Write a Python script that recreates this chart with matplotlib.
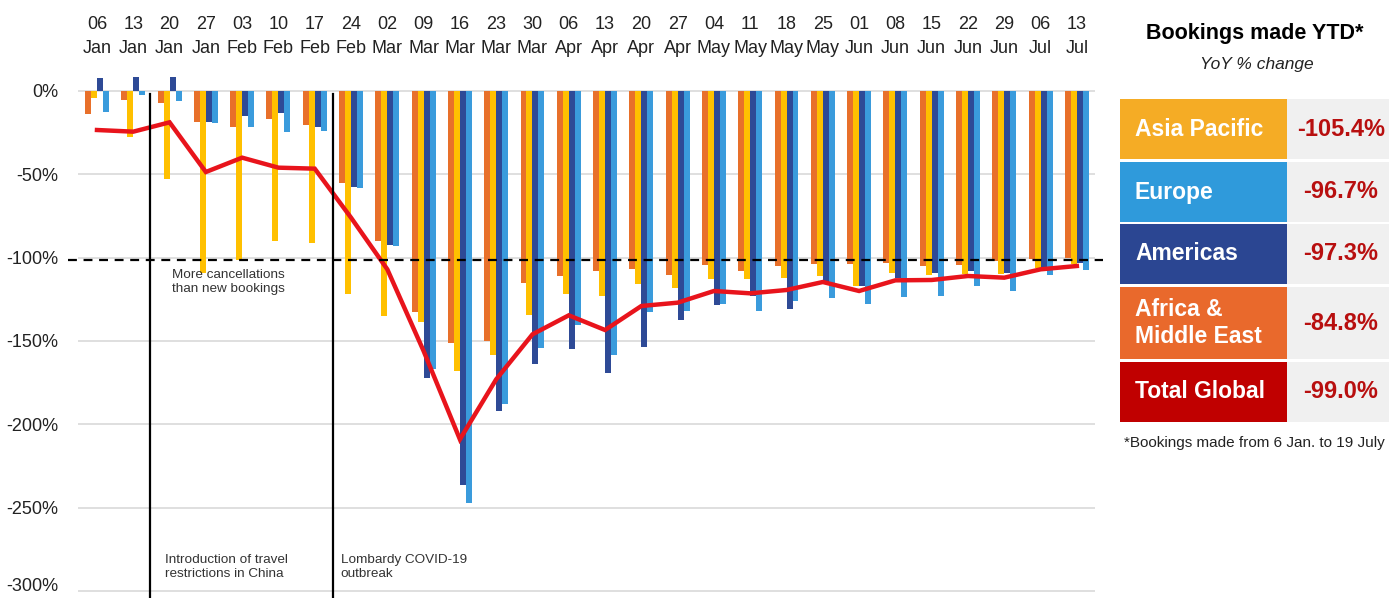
import matplotlib
matplotlib.use("Agg")
import matplotlib.pyplot as plt
from matplotlib.patches import Rectangle
import numpy as np

plt.rcParams['font.family'] = ['Liberation Sans', 'DejaVu Sans']

weeks = ["06\nJan", "13\nJan", "20\nJan", "27\nJan", "03\nFeb", "10\nFeb", "17\nFeb",
         "24\nFeb", "02\nMar", "09\nMar", "16\nMar", "23\nMar", "30\nMar", "06\nApr",
         "13\nApr", "20\nApr", "27\nApr", "04\nMay", "11\nMay", "18\nMay", "25\nMay",
         "01\nJun", "08\nJun", "15\nJun", "22\nJun", "29\nJun", "06\nJul", "13\nJul"]

africa = [-13.8, -5.4, -7.4, -18.4, -21.4, -17, -20.4, -55, -90, -132.6, -151, -150, -115,
          -111, -108, -106.6, -110.6, -104.6, -108, -105, -104, -104, -103.4, -105, -104.6,
          -102, -101, -100]
asia = [-4.4, -27.4, -52.6, -109, -101.4, -90, -91.4, -122, -135, -138.6, -168, -158.5,
        -134.6, -121.6, -123, -115.6, -118.4, -113, -113, -112, -111, -117, -109, -110.6,
        -110, -109.6, -106, -104]
americas = [7.6, 8.6, 8.2, -18.4, -15, -13.4, -21.4, -57.4, -92.7, -172, -236.5, -192, -164,
            -155, -169.5, -153.6, -137.6, -128.4, -123, -131, -115, -117, -112, -109, -108,
            -109, -108, -103]
europe = [-12.8, -2.4, -6, -19.4, -21.8, -24.8, -23.8, -58, -93, -167, -247, -188, -154,
          -140.6, -158.4, -132.6, -132, -128, -132, -126, -124, -127.6, -123.6, -123, -117,
          -120, -110.6, -107.4]
total = [-23.4, -24.4, -18.8, -48.6, -40, -46, -46.6, -76, -107, -156, -209, -173, -146,
         -134.6, -143.4, -129, -127, -120, -121.4, -119.4, -114.6, -120, -113.6, -113.4,
         -111, -112, -107, -105]

yticks = [0, -50, -100, -150, -200, -250, -300]
ytick_labels = ["0%", "-50%", "-100%", "-150%", "-200%", "-250%", "-300%"]

panel_labels = ["Asia Pacific", "Europe", "Americas", "Africa &\nMiddle East", "Total Global"]
panel_values = ["-105.4%", "-96.7%", "-97.3%", "-84.8%", "-99.0%"]

c_africa = "#E8702A"
c_asia = "#FFC000"
c_americas = "#2E4A96"
c_europe = "#3A9BDC"
c_total = "#E8141C"
panel_colors = ["#F5AC25", "#2F9ADB", "#2B4692", "#E9692C", "#C00000"]

W, H = 1389, 598
fig = plt.figure(figsize=(W / 100, H / 100), dpi=100)

ax_left, ax_right, ax_top, ax_bottom = 78, 1095, 71, 598
ax = fig.add_axes([ax_left / W, 1 - ax_bottom / H, (ax_right - ax_left) / W, (ax_bottom - ax_top) / H])
ax.set_xlim(-0.523, 27.5)
ax.set_ylim(-304.2, 12)

x = np.arange(len(weeks))
w = 0.165
series = [(africa, c_africa), (asia, c_asia), (americas, c_americas), (europe, c_europe)]
for k, (vals, col) in enumerate(series):
    ax.bar(x + (k - 1.5) * w, vals, width=w, color=col, zorder=3, linewidth=0)

ax.plot(x, total, color=c_total, linewidth=3.2, zorder=5, solid_joinstyle='miter')

for yv in yticks:
    ax.axhline(yv, color="#D9D9D9", linewidth=1.2, zorder=1)

ax.hlines(-101.3, -0.8, 27.72, colors="black", linestyles=(0, (4, 3)), linewidth=1.6,
          zorder=6, clip_on=False)

for xv in [1.45, 6.5]:
    ax.plot([xv, xv], [-2, -310], color="black", linewidth=1.6, zorder=6, clip_on=False)

ax.set_yticks(yticks)
ax.set_yticklabels(ytick_labels, fontsize=13, color="#222222")
ax.tick_params(axis='y', length=0, pad=14)
ax.xaxis.tick_top()
ax.set_xticks(x)
ax.set_xticklabels(weeks, fontsize=13, color="#222222", linespacing=1.55)
ax.tick_params(axis='x', length=0, pad=10)
for s in ax.spines.values():
    s.set_visible(False)

ax.text(2.07, -107, "More cancellations\nthan new bookings", fontsize=9.7, color="#333333",
        va="top", ha="left", zorder=7)
ax.text(1.87, -278, "Introduction of travel\nrestrictions in China", fontsize=9.7, color="#333333",
        va="top", ha="left", zorder=7)
ax.text(6.72, -278, "Lombardy COVID-19\noutbreak", fontsize=9.7, color="#333333",
        va="top", ha="left", zorder=7)

pax = fig.add_axes([0, 0, 1, 1], zorder=10)
pax.set_xlim(0, W)
pax.set_ylim(H, 0)
pax.axis("off")
pax.patch.set_alpha(0)

pax.text(1255, 33, "Bookings made YTD*", fontsize=15.5, fontweight="bold", ha="center",
         va="center", color="black")
pax.text(1257, 65, "YoY % change", fontsize=12.5, fontstyle="italic", ha="center",
         va="center", color="#222222")

rows = [(99, 159), (162, 222), (224, 284), (287, 359), (362, 422)]
for (t, b), lab, val, col in zip(rows, panel_labels, panel_values, panel_colors):
    pax.add_patch(Rectangle((1120, t), 167, b - t, facecolor=col, edgecolor="none"))
    pax.add_patch(Rectangle((1287, t), 110, b - t, facecolor="#F0F0F0", edgecolor="none"))
    pax.text(1135, (t + b) / 2, lab, fontsize=16.5, fontweight="bold", color="white",
             ha="left", va="center", linespacing=1.2)
    pax.text(1341, (t + b) / 2, val, fontsize=17, fontweight="bold", color="#B80F0F",
             ha="center", va="center")

pax.text(1124, 443, "*Bookings made from 6 Jan. to 19 July", fontsize=11, ha="left",
         va="center", color="#222222")

fig.canvas.draw()
for tick in ax.yaxis.get_major_ticks():
    if tick.label1.get_text() == "-300%":
        tick.label1.set_verticalalignment("baseline")
        tick.label1.set_y(-298)

fig.savefig("out.png", dpi=100)
